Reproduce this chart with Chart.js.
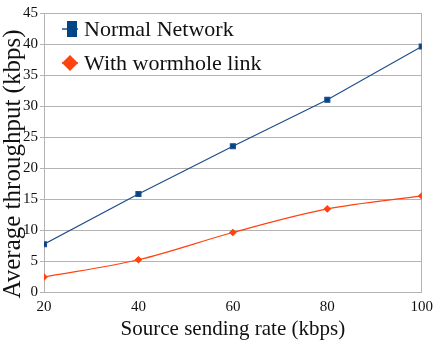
<!DOCTYPE html>
<html><head><meta charset="utf-8">
<script src="https://cdn.jsdelivr.net/npm/chart.js@4/dist/chart.umd.min.js"></script>
<style>html,body{margin:0;padding:0;background:#fff}#wrap{width:439px;height:346px}</style>
</head><body><div id="wrap"><canvas id="c" width="439" height="346"></canvas></div>
<script>
const rates = [20, 40, 60, 80, 100];
const normalNetwork = [7.7, 15.8, 23.5, 31.0, 39.6];
const wormholeLink = [2.4, 5.2, 9.6, 13.4, 15.5];
const seriesLabels = ['Normal Network', 'With wormhole link'];
const yTicks = [0, 5, 10, 15, 20, 25, 30, 35, 40, 45];
const yTitle = 'Average throughput (kbps)';
const xTitle = 'Source sending rate (kbps)';

const serif = '"Liberation Serif", "DejaVu Serif", serif';

const textPlugin = {
  id: 'innerLegend',
  afterDraw(chart) {
    const ctx = chart.ctx;
    const area = chart.chartArea;
    ctx.save();
    ctx.translate(13, 164);
    ctx.rotate(-Math.PI / 2);
    ctx.font = "normal 25px 'Liberation Serif'";
    ctx.textAlign = 'center';
    ctx.textBaseline = 'middle';
    ctx.fillStyle = '#111';
    ctx.fillText(yTitle, 0, 0);
    ctx.restore();

    ctx.save();
    const rows = [29, 63];
    chart.data.datasets.forEach((ds, i) => {
      const y = rows[i];
      const x0 = area.left + 18;
      ctx.strokeStyle = ds.borderColor; ctx.lineWidth = 1.5;
      ctx.beginPath(); ctx.moveTo(x0, y); ctx.lineTo(x0 + 16, y); ctx.stroke();
      ctx.fillStyle = ds.backgroundColor;
      if (i === 0) {
        ctx.fillRect(x0 + 5, y - 8, 10, 16);
      } else {
        ctx.beginPath();
        ctx.moveTo(x0 + 8, y - 8); ctx.lineTo(x0 + 16, y); ctx.lineTo(x0 + 8, y + 8); ctx.lineTo(x0, y);
        ctx.closePath(); ctx.fill();
      }
    });
    ctx.textBaseline = 'middle';
    ctx.textAlign = 'left';
    ctx.fillStyle = '#111';
    ctx.font = "22px 'Liberation Serif'";
    chart.data.datasets.forEach((ds, i) => {
      ctx.fillText(ds.label, area.left + 40, rows[i] + 1);
    });
    ctx.restore();
  }
};

new Chart(document.getElementById('c'), {
  type: 'line',
  data: {
    datasets: [
      { label: seriesLabels[0], data: rates.map((r, i) => ({x: r, y: normalNetwork[i]})),
        borderColor: '#1f4e8c', backgroundColor: '#004586', borderWidth: 1.2,
        pointStyle: 'rect', pointRadius: 3.5, tension: 0 },
      { label: seriesLabels[1], data: rates.map((r, i) => ({x: r, y: wormholeLink[i]})),
        borderColor: '#ff420e', backgroundColor: '#ff420e', borderWidth: 1.2,
        pointStyle: 'rectRot', pointRadius: 3, cubicInterpolationMode: 'monotone' }
    ]
  },
  options: {
    responsive: false, animation: false,
    layout: { padding: { top: 13, right: 0, left: 0, bottom: 0 } },
    plugins: { legend: { display: false }, tooltip: { enabled: false } },
    scales: {
      x: {
        type: 'linear', min: 20, max: 100,
        afterBuildTicks: (s) => { s.ticks = rates.map(v => ({value: v})); },
        afterFit: (s) => { s.height = 54; },
        grid: { color: (c) => c.tick && c.tick.value === 100 ? '#b3b3b3' : 'rgba(0,0,0,0)', drawTicks: false, tickLength: 0 },
        border: { color: '#b3b3b3' },
        ticks: { font: { family: serif, size: 15 }, color: '#111', padding: 6 },
        title: { display: true, text: xTitle, font: { family: serif, size: 21 }, color: '#111', padding: { top: 0, bottom: 4 } }
      },
      y: {
        min: 0, max: 45,
        afterBuildTicks: (s) => { s.ticks = yTicks.map(v => ({value: v})); },
        afterFit: (s) => { s.width = 44; },
        grid: { color: '#b3b3b3', tickLength: 4 },
        border: { color: '#b3b3b3' },
        ticks: { font: { family: serif, size: 15 }, color: '#111', padding: 2 },
        title: { display: false }
      }
    }
  },
  plugins: [textPlugin]
});
</script></body></html>
